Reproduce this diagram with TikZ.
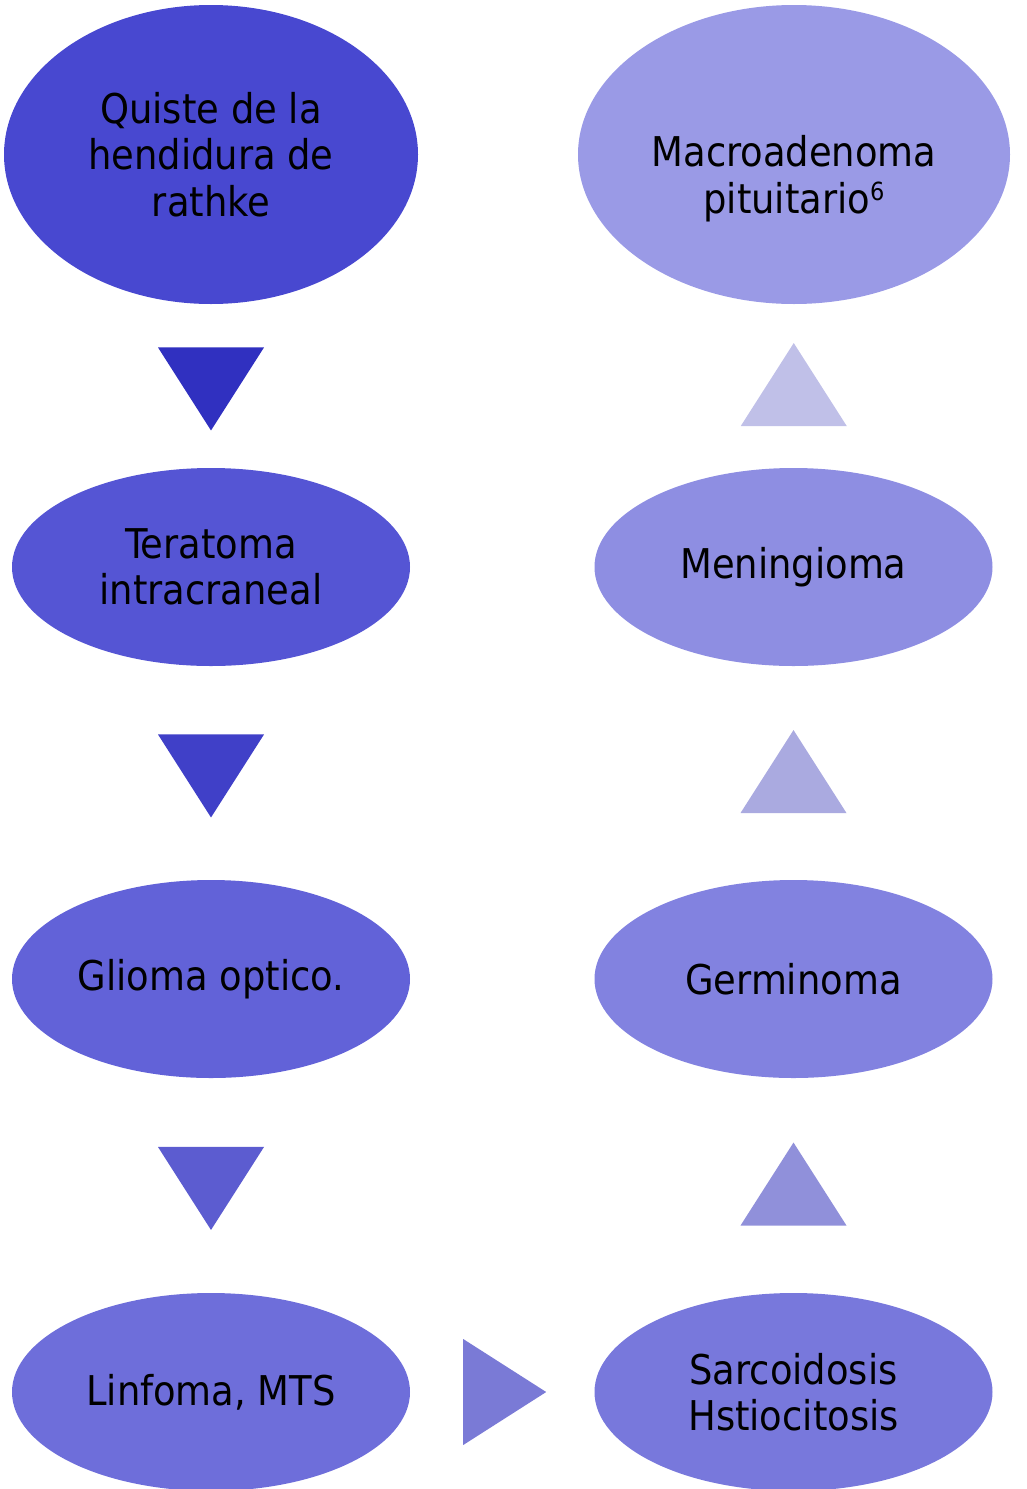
\documentclass[tikz,border=0pt]{standalone}
\usepackage{fontspec}
\setmainfont{DejaVu Sans Condensed}
\usetikzlibrary{shapes.geometric, positioning, calc}
\definecolor{stageA}{RGB}{72,72,208}
\definecolor{stageB}{RGB}{85,85,212}
\definecolor{stageC}{RGB}{98,98,216}
\definecolor{stageD}{RGB}{110,110,218}
\definecolor{stageE}{RGB}{120,120,220}
\definecolor{stageF}{RGB}{130,130,224}
\definecolor{stageG}{RGB}{142,142,226}
\definecolor{stageH}{RGB}{154,154,230}
\definecolor{arrowA}{RGB}{48,48,192}
\definecolor{arrowB}{RGB}{64,64,200}
\definecolor{arrowC}{RGB}{92,92,208}
\definecolor{arrowD}{RGB}{122,122,214}
\definecolor{arrowE}{RGB}{144,144,218}
\definecolor{arrowF}{RGB}{170,170,224}
\definecolor{arrowG}{RGB}{192,192,232}
\tikzstyle{stage} = [ellipse, minimum width=398pt, minimum height=198pt, inner sep=0pt, align=center, text=black, font=\fontsize{41}{46.5}\selectfont]
\tikzstyle{tri} = [isosceles triangle, isosceles triangle stretches, minimum width=106pt, minimum height=83pt, inner sep=0pt]
\tikzstyle{tridown} = [tri, shape border rotate=-90, yshift=9.5pt]
\tikzstyle{triup} = [tri, shape border rotate=90, yshift=-11pt]
\newcommand{\supsix}{\raisebox{13pt}{\fontsize{25}{25}\selectfont 6}}

\begin{document}
\begin{tikzpicture}[x=1pt, y=-1pt]
  \useasboundingbox (0,0) rectangle (1027,1489);
  % left column, going down
  \node[stage, fill=stageA, minimum width=414pt, minimum height=299pt] (quiste) at (211,154.5) {Quiste de la\\hendidura de\\rathke};
  \node[stage, fill=stageB] (teratoma) at (211,567) {Teratoma\\intracraneal};
  \node[stage, fill=stageC] (glioma) at (211,979) {Glioma optico.};
  \node[stage, fill=stageD] (linfoma) at (211,1392) {Linfoma, MTS};
  % right column, going up
  \node[stage, fill=stageE] (sarcoid) at (793.5,1392) {Sarcoidosis\\Hstiocitosis};
  \node[stage, fill=stageF] (germinoma) at (793.5,979) {Germinoma};
  \node[stage, fill=stageG] (meningioma) at (793.5,567) {Meningioma};
  \node[stage, fill=stageH, minimum width=432pt, minimum height=299pt] (macro) at (794,154.5) {\strut\\Macroadenoma\\pituitario\supsix};

  \node[tridown, fill=arrowA] (t1) at ($(quiste.south)!0.5!(teratoma.north)$) {};
  \node[tridown, fill=arrowB] (t2) at ($(teratoma.south)!0.5!(glioma.north)$) {};
  \node[tridown, fill=arrowC] (t3) at ($(glioma.south)!0.5!(linfoma.north)$) {};
  \node[tri, fill=arrowD, xshift=-10pt] (t4) at ($(linfoma.east)!0.5!(sarcoid.west)$) {};
  \node[triup, fill=arrowE] (t5) at ($(sarcoid.north)!0.5!(germinoma.south)$) {};
  \node[triup, fill=arrowF] (t6) at ($(germinoma.north)!0.5!(meningioma.south)$) {};
  \node[triup, fill=arrowG] (t7) at ($(meningioma.north)!0.5!(macro.south)$) {};
\end{tikzpicture}
\end{document}
